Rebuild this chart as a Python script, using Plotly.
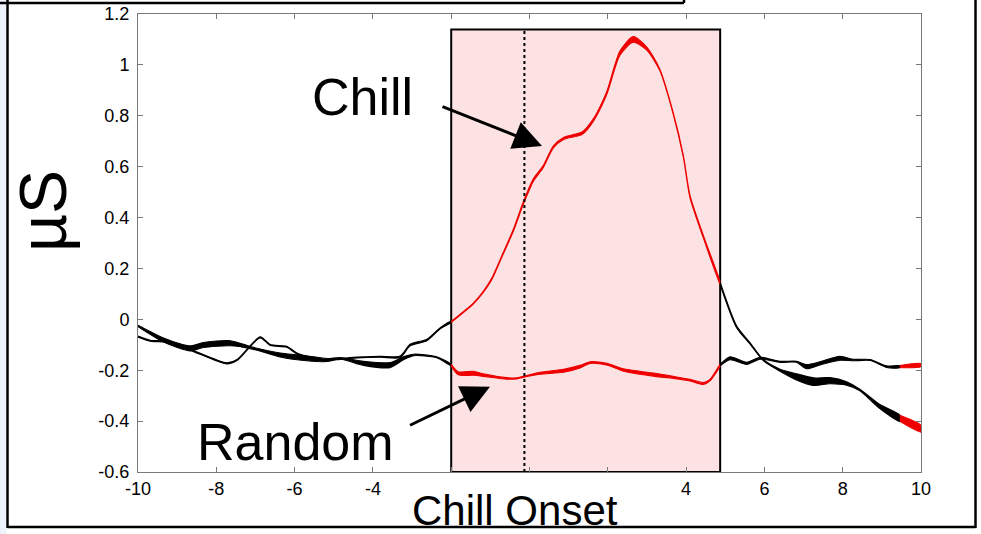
import plotly.graph_objects as go

# ---------------- data ----------------
chill_x = [-10.0, -9.69, -9.26, -8.66, -7.73, -7.47, -6.88, -6.62, -6.20, -5.94, -5.35, -4.92, -4.40,
           -3.81, -3.30, -3.05, -2.62, -2.28, -2.00,
           -1.43, -1.18, -0.96, -0.71, -0.41, -0.16, 0.10, 0.35, 0.61, 0.87, 1.34, 1.63, 1.97, 2.31,
           2.65, 2.99, 3.33, 3.67, 3.93, 4.10, 4.44, 4.87,
           5.29, 5.63, 5.97, 6.40, 6.82, 7.25, 7.67, 8.10, 8.44, 8.95, 9.46, 10.0]
chill_y = [-0.068, -0.084, -0.088, -0.120, -0.173, -0.160, -0.071, -0.101, -0.108, -0.134, -0.160, -0.157, -0.150,
           -0.147, -0.147, -0.101, -0.081, -0.035, -0.010,
           0.063, 0.108, 0.160, 0.246, 0.351, 0.456, 0.548, 0.600, 0.678, 0.711, 0.731, 0.783, 0.888, 1.046,
           1.100, 1.065, 0.980, 0.810, 0.640, 0.482, 0.325, 0.141,
           -0.029, -0.094, -0.160, -0.200, -0.226, -0.245, -0.241, -0.252, -0.278, -0.343, -0.389, -0.430]
chill_err = [0.002, 0.002, 0.002, 0.002, 0.002, 0.002, 0.002, 0.002, 0.002, 0.002, 0.002, 0.002, 0.002,
             0.002, 0.003, 0.003, 0.003, 0.002, 0.002,
             0.002, 0.002, 0.003, 0.003, 0.004, 0.005, 0.005, 0.004, 0.004, 0.004, 0.005, 0.005, 0.006, 0.008,
             0.011, 0.006, 0.003, 0.003, 0.004, 0.005, 0.005, 0.005,
             0.004, 0.003, 0.002, 0.004, 0.012, 0.015, 0.012, 0.007, 0.003, 0.008, 0.012, 0.013]

random_x = [-10.0, -9.35, -8.66, -8.33, -7.64, -7.05, -6.37, -5.69, -5.17, -4.84, -4.24, -3.56, -3.22,
            -2.96, -2.37, -2.00,
            -1.82, -1.43, -1.18, -0.58, -0.32, -0.16, 0.27, 0.87, 1.29, 1.55, 1.97, 2.40, 2.82, 3.25,
            3.67, 4.10, 4.44, 4.61, 4.87,
            5.12, 5.55, 5.89, 6.40, 6.82, 7.08, 7.42, 7.93, 8.27, 8.70, 9.12, 9.46, 10.0]
random_y = [-0.026, -0.081, -0.114, -0.101, -0.094, -0.114, -0.140, -0.153, -0.160, -0.153, -0.173, -0.180, -0.153,
            -0.140, -0.149, -0.180,
            -0.212, -0.212, -0.219, -0.232, -0.232, -0.226, -0.212, -0.202, -0.186, -0.170, -0.176, -0.199, -0.210, -0.219,
            -0.228, -0.239, -0.252, -0.239, -0.180,
            -0.153, -0.173, -0.153, -0.167, -0.167, -0.186, -0.173, -0.153, -0.160, -0.160, -0.186, -0.186, -0.180]
random_err = [0.003, 0.008, 0.010, 0.010, 0.010, 0.004, 0.008, 0.010, 0.006, 0.003, 0.008, 0.010, 0.006,
              0.003, 0.002, 0.003,
              0.006, 0.008, 0.005, 0.003, 0.002, 0.002, 0.004, 0.006, 0.005, 0.003, 0.003, 0.005, 0.006, 0.006,
              0.004, 0.003, 0.004, 0.003, 0.003,
              0.006, 0.004, 0.004, 0.002, 0.002, 0.008, 0.006, 0.008, 0.003, 0.002, 0.003, 0.004, 0.006]

window_start, window_end = -2.0, 4.87
red_tail_start = 9.46
onset_line = -0.13

x_ticks = [-10, -8, -6, -4, -2, 0, 2, 4, 6, 8, 10]
x_ticktext = ["-10", "-8", "-6", "-4", "", "", "", "4", "6", "8", "10"]
y_ticks = [-0.6, -0.4, -0.2, 0, 0.2, 0.4, 0.6, 0.8, 1.0, 1.2]
y_ticktext = ["-0.6", "-0.4", "-0.2", "0", "0.2", "0.4", "0.6", "0.8", "1", "1.2"]

# ---------------- layout geometry ----------------
W, H = 981, 534
ML, MR, MT, MB = 138, 60, 14, 62
PW, PH = W - ML - MR, H - MT - MB


def px_x(px):
    return (px - ML) / PW


def px_y(py):
    return (H - MB - py) / PH


RED = "rgb(238,0,0)"
BLACK = "black"
FONT = "Arial, Liberation Sans, sans-serif"


def color_for(mid):
    if window_start <= mid <= window_end or mid >= red_tail_start:
        return RED
    return BLACK


def add_band(fig, xs, ys, es):
    # split into contiguous colour runs (sharing boundary points)
    runs = []
    cur = [0]
    cur_col = color_for((xs[0] + xs[1]) / 2)
    for i in range(1, len(xs)):
        col = color_for((xs[i - 1] + xs[i]) / 2)
        if col != cur_col:
            runs.append((cur, cur_col))
            cur = [i - 1]
            cur_col = col
        cur.append(i)
    runs.append((cur, cur_col))
    for idx, col in runs:
        sx = [xs[i] for i in idx]
        up = [ys[i] + es[i] for i in idx]
        lo = [ys[i] - es[i] for i in idx]
        fig.add_trace(go.Scatter(x=sx + sx[::-1], y=up + lo[::-1], mode="lines",
                                 fill="toself", fillcolor=col,
                                 line=dict(color=col, width=1.1, shape="spline", smoothing=0.7),
                                 hoverinfo="skip", showlegend=False))


fig = go.Figure()
add_band(fig, chill_x, chill_y, chill_err)
add_band(fig, random_x, random_y, random_err)

shapes = []
# pink chill window
shapes.append(dict(type="rect", xref="x", yref="paper", x0=window_start, x1=window_end,
                   y0=0, y1=px_y(29.5), fillcolor="rgb(252,226,226)",
                   line=dict(color="black", width=2), layer="below"))
# onset dotted line
shapes.append(dict(type="line", xref="x", yref="paper", x0=onset_line, x1=onset_line,
                   y0=0, y1=px_y(29.5), line=dict(color="black", width=2, dash="dot")))
# outer frame
shapes.append(dict(type="rect", xref="paper", yref="paper", x0=px_x(0), x1=px_x(6.5),
                   y0=px_y(534), y1=px_y(0), fillcolor="rgb(238,242,250)", line=dict(width=0),
                   layer="below"))
shapes.append(dict(type="line", xref="paper", yref="paper", x0=px_x(7.5), x1=px_x(7.5),
                   y0=px_y(0), y1=px_y(528), line=dict(color="black", width=2.5)))
shapes.append(dict(type="line", xref="paper", yref="paper", x0=px_x(975.5), x1=px_x(975.5),
                   y0=px_y(0), y1=px_y(528), line=dict(color="black", width=2.5)))
shapes.append(dict(type="line", xref="paper", yref="paper", x0=px_x(7.5), x1=px_x(975.5),
                   y0=px_y(527), y1=px_y(527), line=dict(color="black", width=2.5)))
shapes.append(dict(type="line", xref="paper", yref="paper", x0=px_x(0), x1=px_x(684),
                   y0=px_y(3), y1=px_y(3), line=dict(color="black", width=2.5)))
shapes.append(dict(type="line", xref="paper", yref="paper", x0=px_x(684), x1=px_x(684),
                   y0=px_y(0), y1=px_y(3), line=dict(color="black", width=2.5)))

annotations = [
    dict(text="Chill", xref="paper", yref="paper", x=px_x(362), y=px_y(97),
         showarrow=False, font=dict(family=FONT, size=52, color="black"),
         xanchor="center", yanchor="middle"),
    dict(text="Random", xref="paper", yref="paper", x=px_x(295), y=px_y(442),
         showarrow=False, font=dict(family=FONT, size=52, color="black"),
         xanchor="center", yanchor="middle"),
    dict(text="Chill Onset", xref="paper", yref="paper", x=px_x(515), y=px_y(510),
         showarrow=False, font=dict(family=FONT, size=42, color="black"),
         xanchor="center", yanchor="middle"),
    dict(text="\u00b5S", xref="paper", yref="paper", x=px_x(43), y=px_y(211),
         showarrow=False, textangle=-90, font=dict(family=FONT, size=66, color="black"),
         xanchor="center", yanchor="middle"),
    # arrows
    dict(text="", xref="x", yref="y", axref="x", ayref="y", x=0.32, y=0.681, ax=-2.26, ay=0.838,
         showarrow=True, arrowhead=2, arrowsize=1.9, arrowwidth=3, arrowcolor="black"),
    dict(text="", xref="x", yref="y", axref="x", ayref="y", x=-1.01, y=-0.265, ax=-3.09, ay=-0.419,
         showarrow=True, arrowhead=2, arrowsize=1.9, arrowwidth=3, arrowcolor="black"),
]

axis_common = dict(showgrid=False, zeroline=False, showline=True, linecolor="rgb(120,120,120)",
                   linewidth=1, mirror="allticks", ticks="inside", ticklen=5, automargin=False,
                   tickcolor="rgb(120,120,120)", tickfont=dict(family=FONT, size=18, color="black"))

fig.update_layout(
    width=W, height=H,
    margin=dict(l=ML, r=MR, t=MT, b=MB, autoexpand=False),
    paper_bgcolor="white", plot_bgcolor="white",
    xaxis=dict(range=[-10, 10], tickvals=x_ticks, ticktext=x_ticktext, **axis_common),
    yaxis=dict(range=[-0.6, 1.2], tickvals=y_ticks, ticktext=y_ticktext, ticklabelstandoff=4,
               **axis_common),
    shapes=shapes, annotations=annotations, showlegend=False,
)

fig.write_html("out.html")
